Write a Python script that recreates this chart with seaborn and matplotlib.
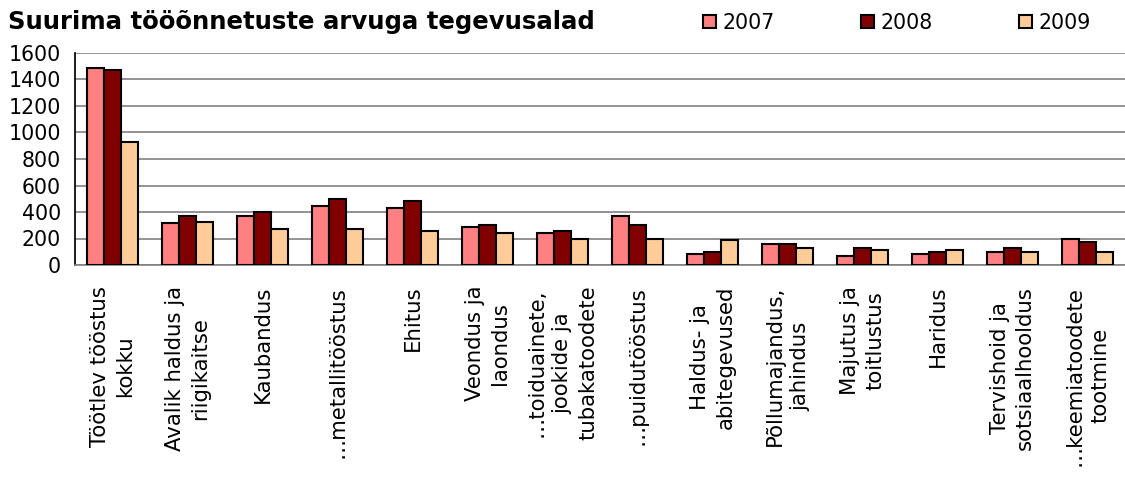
import matplotlib
matplotlib.use("Agg")
import matplotlib.pyplot as plt
from matplotlib.patches import Patch
import seaborn as sns
import pandas as pd
import numpy as np

# Andmed (loetud jooniselt)
categories = [
    "Töötlev tööstus\nkokku", "Avalik haldus ja\nriigikaitse", "Kaubandus",
    "…metallitööstus", "Ehitus", "Veondus ja\nlaondus",
    "…toiduainete,\njookide ja\ntubakatoodete", "…puidutööstus",
    "Haldus- ja\nabitegevused", "Põllumajandus,\njahindus",
    "Majutus ja\ntoitlustus", "Haridus", "Tervishoid ja\nsotsiaalhooldus",
    "…keemiatoodete\ntootmine",
]
years = ["2007", "2008", "2009"]
v2007 = [1486, 316, 369, 442, 427, 286, 245, 371, 86, 157, 71, 86, 101, 199]
v2008 = [1473, 371, 399, 498, 485, 301, 258, 303, 101, 159, 129, 101, 129, 172]
v2009 = [930, 328, 270, 270, 258, 245, 199, 199, 187, 129, 114, 114, 101, 101]
colors = {"2007": "#FF8080", "2008": "#800000", "2009": "#FFCC99"}

df = pd.DataFrame({
    "Tegevusala": categories * 3,
    "Aasta": [y for y in years for _ in categories],
    "Arv": v2007 + v2008 + v2009,
})

sns.set_theme(style="white")
plt.rcParams["font.family"] = ["DejaVu Sans"]
plt.rcParams["text.color"] = "black"
plt.rcParams["xtick.color"] = "black"
plt.rcParams["ytick.color"] = "black"

fig = plt.figure(figsize=(11.25, 4.78), dpi=100)
ax = fig.add_axes([75 / 1125, 1 - 265 / 478, 1 - 75 / 1125, (265 - 53) / 478])

sns.barplot(data=df, x="Tegevusala", y="Arv", hue="Aasta", palette=colors,
            saturation=1, width=0.68, edgecolor="black", linewidth=1.5,
            ax=ax, legend=False, zorder=3)

ax.set_ylim(0, 1600)
ax.set_xlim(-0.5, len(categories) - 0.5)
ax.set_yticks(np.arange(0, 1601, 200))
ax.yaxis.grid(True, color="#808080", linewidth=1.2, zorder=0)
ax.set_axisbelow(True)
ax.set_xlabel("")
ax.set_ylabel("")

for s in ["top", "right"]:
    ax.spines[s].set_visible(False)
ax.spines["left"].set_color("black")
ax.spines["bottom"].set_color("#808080")
ax.spines["bottom"].set_linewidth(1.2)

ax.tick_params(axis="y", labelsize=14.8, direction="inout", length=8,
               width=1, color="black", pad=6, labelcolor="black")
ax.set_xticks(np.arange(len(categories)))
ax.set_xticklabels(categories, rotation=90, fontsize=15.3, ha="center",
                   va="top", multialignment="center", color="black",
                   linespacing=1.35)
ax.set_xticks(np.arange(len(categories) + 1) - 0.5, minor=True)
ax.tick_params(axis="x", which="major", length=0, pad=15)
ax.tick_params(axis="x", which="minor", direction="inout", length=11,
               width=1, color="black")

fig.text(0.007, 1 - 22 / 478, "Suurima tööõnnetuste arvuga tegevusalad",
         fontsize=17.6, fontweight="bold", va="center", ha="left",
         color="black")

handles = [Patch(facecolor=colors[y], edgecolor="black", linewidth=1.5, label=y)
           for y in years]
fig.legend(handles=handles, loc="center left",
           bbox_to_anchor=(695 / 1125, 1 - 23 / 478), ncol=3, frameon=False,
           fontsize=14.8, handlelength=0.6, handleheight=0.6,
           handletextpad=0.35, columnspacing=4.2, borderaxespad=0)

fig.savefig("out.png", dpi=100)
